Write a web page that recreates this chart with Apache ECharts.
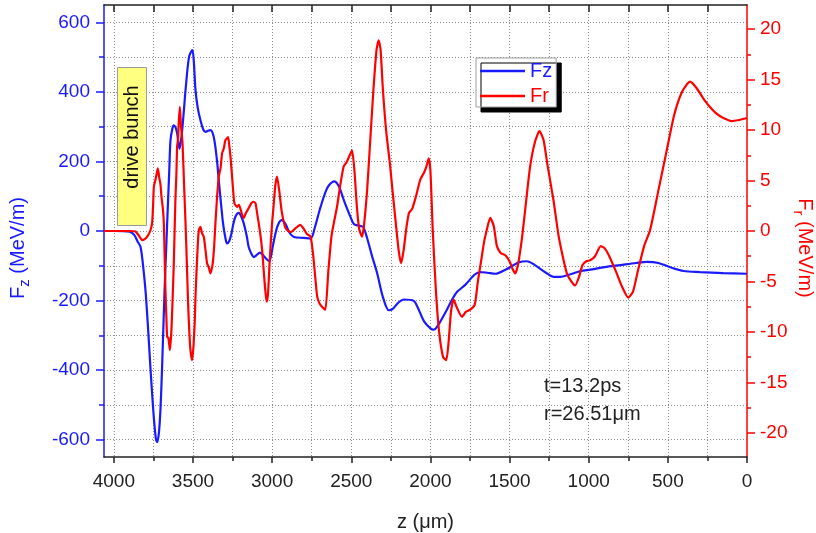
<!DOCTYPE html>
<html>
<head>
<meta charset="utf-8">
<script src="https://cdn.jsdelivr.net/npm/echarts@6/dist/echarts.min.js"></script>
<style>html,body{margin:0;padding:0;background:#fff}#c{width:816px;height:533px}</style>
</head>
<body>
<div id="c"></div>
<script>
// ---- data (z in micrometres, forces in MeV/m) ----
const fzZ = [4062,4000,3900,3870,3850,3831,3815,3800,3785,3769,3750,3735,3726,3715,3705,3695,3680,3663,3650,3642,3630,3621,3610,3600,3585,3575,3568,3555,3547,3525,3504,3495,3484,3470,3453,3435,3421,3405,3390,3369,3350,3337,3322,3310,3295,3285,3270,3257,3245,3232,3211,3195,3179,3160,3148,3130,3116,3095,3077,3060,3047,3021,3010,3000,2985,2965,2940,2915,2890,2862,2800,2757,2730,2694,2650,2609,2580,2540,2500,2483,2440,2425,2400,2370,2336,2300,2263,2240,2200,2168,2105,2080,2040,2000,1979,1950,1900,1860,1831,1780,1720,1685,1640,1590,1520,1440,1390,1340,1270,1220,1180,1120,1050,991,900,800,700,633,560,480,400,296,150,0];
const fzV = [0,0,-2,-12,-30,-46,-100,-170,-270,-391,-520,-595,-607,-580,-510,-391,-180,22,170,261,295,304,298,281,237,262,290,360,405,500,520,490,405,355,319,292,285,288,290,271,210,146,75,22,-20,-36,-28,-7,20,41,52,42,22,-15,-46,-66,-75,-68,-62,-68,-75,-86,-78,-55,-20,15,31,20,-5,-17,-20,-22,10,69,125,143,130,80,35,20,14,12,-20,-70,-122,-190,-228,-225,-205,-197,-201,-220,-260,-280,-284,-270,-230,-195,-175,-155,-125,-118,-120,-123,-110,-90,-87,-98,-120,-132,-132,-125,-115,-111,-104,-98,-92,-89,-92,-105,-115,-118,-121,-123];

const frZ = [4062,3900,3863,3840,3821,3805,3789,3770,3758,3752,3747,3738,3730,3722,3712,3705,3699,3690,3684,3679,3674,3668,3663,3655,3646,3641,3636,3628,3621,3611,3605,3600,3595,3590,3583,3576,3570,3565,3556,3547,3538,3530,3523,3516,3505,3497,3489,3484,3478,3470,3463,3453,3443,3432,3420,3411,3400,3390,3382,3375,3366,3358,3347,3337,3326,3316,3305,3295,3278,3270,3263,3253,3245,3238,3221,3210,3200,3190,3179,3165,3150,3131,3118,3105,3095,3085,3073,3063,3055,3047,3038,3032,3025,3017,3008,3000,2990,2980,2969,2955,2940,2920,2906,2880,2850,2822,2800,2780,2757,2740,2725,2715,2700,2685,2664,2645,2625,2610,2590,2570,2548,2530,2510,2495,2480,2465,2450,2432,2420,2400,2380,2360,2340,2327,2315,2300,2280,2254,2240,2220,2200,2185,2170,2150,2135,2115,2090,2064,2040,2025,2011,2000,1985,1965,1945,1920,1900,1885,1870,1854,1835,1801,1775,1748,1720,1700,1680,1660,1644,1622,1600,1580,1555,1527,1500,1480,1464,1445,1420,1395,1370,1340,1311,1285,1260,1223,1190,1160,1138,1110,1086,1060,1040,1015,991,960,924,900,870,823,790,750,720,690,650,612,560,507,460,410,360,320,270,234,190,150,97,50,0];
const frV = [0,0,-0.05,-0.5,-0.9,-0.8,-0.55,0,0.8,2.5,4.4,5.0,5.6,6.2,5.2,4.6,3.4,2.2,0.8,-2.5,-5.8,-8.5,-10.5,-10.6,-11.8,-11.0,-9.8,-6.5,-3.2,3.1,5.5,8.4,9.0,10.7,12.3,10.5,9.5,8.4,4.5,0.8,-3.5,-7.5,-10,-11.8,-12.8,-11.5,-9.1,-6.5,-4.2,-1.5,0.1,0.4,-0.2,-0.55,-2.0,-3.2,-3.6,-4.2,-3.8,-3.2,-1.5,0.8,3.5,5.4,6.2,7.7,8.2,9.0,9.3,8.4,7.4,5.4,3.8,2.75,2.4,2.6,2.2,1.6,1.3,1.8,2.2,2.75,2.9,2.75,1.8,0.8,-0.5,-1.9,-3.5,-5.2,-6.6,-7.0,-6.0,-3.5,-1.0,0.8,2.6,4.5,5.4,4,2,0.5,0.1,-0.1,0.3,0.6,0.2,-0.3,-0.55,-2.5,-5,-6.5,-7.2,-7.5,-7.8,-4,-0.5,0.8,2.4,4.5,6.4,6.8,7.5,8.0,6,2.5,0.2,-0.55,0.5,4,9,14,18,18.9,18,14,10,6.4,4.1,1,-2,-3.2,-2,0.5,1.8,2.2,3.5,5.1,5.8,6.4,7.2,6,0,-6,-10,-12.5,-12.8,-11,-8,-6.8,-7.5,-8.5,-8,-7.8,-7.3,-5,-3,-1,0.1,1.3,0.5,-1.5,-2.2,-2.4,-3,-3.8,-4.2,-3.2,-0.5,3,6.4,8.8,9.9,9,6.5,3.1,-0.5,-2.8,-4.2,-5,-5.4,-4.5,-3.4,-3.0,-2.9,-2.5,-1.5,-1.7,-2.5,-4.2,-5.5,-6.6,-6,-4,-1.5,0.1,4,8.0,11.5,13.8,14.8,14.2,13.0,12.3,11.6,11.2,10.9,11.0,11.2];

// tick labels
const xLabels = [0,500,1000,1500,2000,2500,3000,3500,4000];
const xMinor = [250,750,1250,1750,2250,2750,3250,3750];
const xGrid = [250,500,750,1000,1250,1500,1750,2000,2250,2500,2750,3000,3250,3500,3750,4000];
const fzLabels = [-600,-400,-200,0,200,400,600];
const fzMinor = [-500,-300,-100,100,300,500];
const frLabels = [-20,-15,-10,-5,0,5,10,15,20];
const frMinor = [-17.5,-12.5,-7.5,-2.5,2.5,7.5,12.5,17.5];

const BLUE = '#1a1aff', RED = '#ff0000';
const FONT = '"Liberation Sans", Arial, sans-serif';
const X_MAX = 4062, FZ_LIM = 650, FR_LIM = 22.4;

const zip = (a, b) => a.map((v, i) => [v, b[i]]);
const gridLine = {show: true, lineStyle: {color: '#8c8c8c', type: [1, 2], width: 1}};
const noZero = {onZero: false};

const chart = echarts.init(document.getElementById('c'), null, {renderer: 'canvas'});
chart.setOption({
  animation: false,
  backgroundColor: '#fff',
  textStyle: {fontFamily: FONT},
  grid: {left: 104, right: 69, top: 5, bottom: 76, outerBoundsMode: 'none', containLabel: false},
  legend: {
    orient: 'vertical', left: 476, top: 58,
    backgroundColor: '#fff', borderColor: '#a0a0a0', borderWidth: 1,
    shadowColor: '#000', shadowBlur: 0, shadowOffsetX: 5, shadowOffsetY: 5,
    padding: [3, 4, 1, 4], itemGap: 5, itemWidth: 45, itemHeight: 2.5, icon: 'rect',
    textStyle: {fontSize: 20, fontFamily: FONT},
    data: [{name: 'Fz', textStyle: {color: BLUE}}, {name: 'Fr', textStyle: {color: RED}}]
  },
  xAxis: [
    {type: 'value', position: 'bottom', min: 0, max: X_MAX, inverse: true,
     name: 'z (μm)', nameLocation: 'middle', nameGap: 55, nameMoveOverlap: false,
     nameTextStyle: {fontSize: 20, color: '#222', fontFamily: FONT},
     axisLine: Object.assign({show: true, lineStyle: {color: '#222', width: 1.5}}, noZero),
     axisTick: {show: true, inside: false, length: 6, customValues: xLabels, lineStyle: {color: '#222', width: 1.5}},
     axisLabel: {customValues: xLabels, margin: 15, fontSize: 19, color: '#222', fontFamily: FONT, formatter: v => String(v)},
     splitLine: {show: false}},
    {type: 'value', position: 'bottom', min: 0, max: X_MAX, inverse: true,
     axisLine: Object.assign({show: false}, noZero),
     axisTick: {show: true, inside: false, length: 4, customValues: xMinor, lineStyle: {color: '#222', width: 1.5}},
     axisLabel: {show: false}, splitLine: {show: false}},
    {type: 'value', position: 'top', min: 0, max: X_MAX, inverse: true,
     axisLine: Object.assign({show: true, lineStyle: {color: '#222', width: 1.5}}, noZero),
     axisTick: {show: true, inside: true, length: 7, customValues: xGrid, lineStyle: {color: '#222', width: 1.5}},
     axisLabel: {show: false}, splitLine: gridLine}
  ],
  yAxis: [
    {type: 'value', position: 'left', min: -FZ_LIM, max: FZ_LIM,
     name: 'F{s|z} (MeV/m)', nameLocation: 'middle', nameGap: 72, nameRotate: 90, nameMoveOverlap: false,
     nameTextStyle: {fontSize: 20, color: BLUE, fontFamily: FONT, padding: [0, 34, 0, 0],
       rich: {s: {fontSize: 15, color: BLUE, fontFamily: FONT, padding: [12, 0, 0, 0]}}},
     axisLine: Object.assign({show: true, lineStyle: {color: BLUE, width: 1.5}}, noZero),
     axisTick: {show: true, inside: false, length: 8, customValues: fzLabels, lineStyle: {color: BLUE, width: 1.5}},
     axisLabel: {customValues: fzLabels, margin: 14, fontSize: 19, color: BLUE, fontFamily: FONT},
     splitLine: gridLine},
    {type: 'value', position: 'left', min: -FZ_LIM, max: FZ_LIM,
     axisLine: Object.assign({show: false}, noZero),
     axisTick: {show: true, inside: false, length: 5, customValues: fzMinor, lineStyle: {color: BLUE, width: 1.5}},
     axisLabel: {show: false}, splitLine: gridLine},
    {type: 'value', position: 'right', min: -FR_LIM, max: FR_LIM,
     name: 'F{s|r} (MeV/m)', nameLocation: 'middle', nameGap: 44, nameRotate: -90, nameMoveOverlap: false,
     nameTextStyle: {fontSize: 20, color: RED, fontFamily: FONT, padding: [0, 0, 0, 34],
       rich: {s: {fontSize: 15, color: RED, fontFamily: FONT, padding: [12, 0, 0, 0]}}},
     axisLine: Object.assign({show: true, lineStyle: {color: RED, width: 1.5}}, noZero),
     axisTick: {show: true, inside: false, length: 8, customValues: frLabels, lineStyle: {color: RED, width: 1.5}},
     axisLabel: {customValues: frLabels, margin: 13, fontSize: 19, color: RED, fontFamily: FONT},
     splitLine: {show: false}},
    {type: 'value', position: 'right', min: -FR_LIM, max: FR_LIM,
     axisLine: Object.assign({show: false}, noZero),
     axisTick: {show: true, inside: false, length: 4, customValues: frMinor, lineStyle: {color: RED, width: 1.5}},
     axisLabel: {show: false}, splitLine: {show: false}}
  ],
  series: [
    {name: 'Fz', type: 'line', xAxisIndex: 0, yAxisIndex: 0, data: zip(fzZ, fzV),
     showSymbol: false, symbol: 'none', smooth: 0.3, z: 3,
     lineStyle: {color: BLUE, width: 2.2}, itemStyle: {color: BLUE}},
    {name: 'Fr', type: 'line', xAxisIndex: 0, yAxisIndex: 2, data: zip(frZ, frV),
     showSymbol: false, symbol: 'none', smooth: 0.2, z: 4,
     lineStyle: {color: RED, width: 2.2}, itemStyle: {color: RED}}
  ],
  graphic: [
    {type: 'rect', left: 117, top: 67, z: 10,
     shape: {width: 29, height: 158},
     style: {fill: '#ffff80', stroke: '#9a9a9a', lineWidth: 1}},
    {type: 'text', x: 132, y: 137, rotation: Math.PI / 2, z: 11,
     style: {text: 'drive bunch', fontSize: 20, fontFamily: FONT, fill: '#111', align: 'center', verticalAlign: 'middle'}},
    {type: 'text', left: 544, top: 376, z: 11,
     style: {text: 't=13.2ps', fontSize: 20, fontFamily: FONT, fill: '#222'}},
    {type: 'text', left: 544, top: 404, z: 11,
     style: {text: 'r=26.51μm', fontSize: 20, fontFamily: FONT, fill: '#222'}}
  ]
});
</script>
</body>
</html>
